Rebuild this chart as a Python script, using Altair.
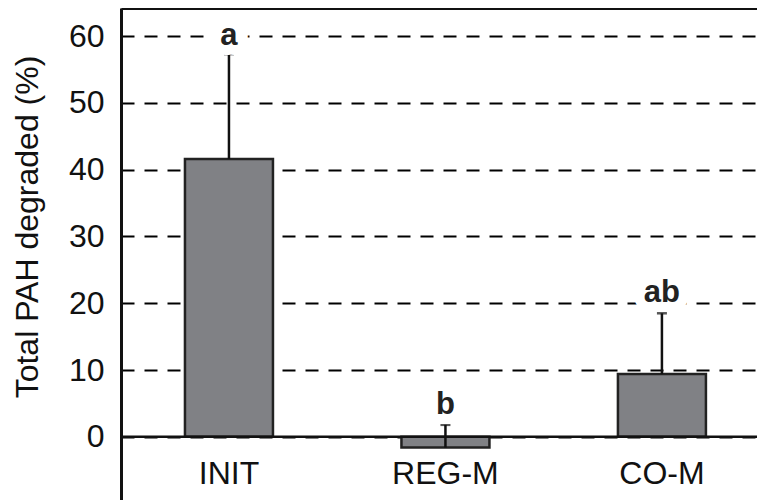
import altair as alt
import pandas as pd

categories = ["INIT", "REG-M", "CO-M"]
means = [41.6, -1.6, 9.4]
err_top = [57.3, 1.8, 18.5]
sig_letters = ["a", "b", "ab"]
sig_y = [60.0, 4.8, 21.6]
label_y = [-5.5, -5.5, -5.5]
y_ticks = [0, 10, 20, 30, 40, 50, 60]

df = pd.DataFrame({
    "cat": categories,
    "mean": means,
    "top": err_top,
    "sig": sig_letters,
    "sig_y": sig_y,
    "label_y": label_y,
})

FONT = "Liberation Sans"
Y_DOMAIN = [-9.45, 64.2]

xscale = alt.Scale(domain=categories, paddingInner=0.5935, paddingOuter=0.2657, align=0.556)
yscale = alt.Scale(domain=Y_DOMAIN, nice=False, zero=False)

base = alt.Chart(df)

bars = base.mark_bar(color="#808185", stroke="#222222", strokeWidth=2.5).encode(
    x=alt.X("cat:N", scale=xscale, sort=categories,
            axis=alt.Axis(orient="top", labels=False, ticks=False, grid=False,
                          domain=True, domainColor="#111111", domainWidth=3, title=None)),
    y=alt.Y("mean:Q", scale=yscale,
            axis=alt.Axis(values=y_ticks, title="Total PAH degraded (%)",
                          grid=True, gridColor="#000000", gridWidth=2, gridDash=[13, 10],
                          ticks=False, tickSize=0, labelPadding=17,
                          labelFont=FONT, labelFontSize=32, labelColor="#111111",
                          titleFont=FONT, titleFontSize=32, titleFontWeight="normal",
                          titleColor="#111111", titleX=-84, titleY=218.5,
                          titleBaseline="alphabetic",
                          domainColor="#111111", domainWidth=3)),
    y2=alt.Y2(datum=0),
)

zero = alt.Chart(pd.DataFrame({"z": [0]})).mark_rule(color="#111111", strokeWidth=2.5).encode(
    y=alt.Y("z:Q", scale=yscale)
)

err = base.mark_rule(color="#111111", strokeWidth=2.5).encode(
    x=alt.X("cat:N", scale=xscale, sort=categories),
    y=alt.Y("mean:Q", scale=yscale),
    y2="top:Q",
)

caps = base.mark_tick(color="#111111", thickness=2.5, size=10, orient="horizontal").encode(
    x=alt.X("cat:N", scale=xscale, sort=categories),
    y=alt.Y("top:Q", scale=yscale),
)

halo = base.mark_text(font=FONT, fontSize=31, fontWeight="bold", baseline="middle",
                      stroke="white", strokeWidth=20, fill="white").encode(
    x=alt.X("cat:N", scale=xscale, sort=categories),
    y=alt.Y("sig_y:Q", scale=yscale),
    text="sig:N",
)

letters = base.mark_text(font=FONT, fontSize=31, fontWeight="bold", baseline="middle",
                         color="#222222").encode(
    x=alt.X("cat:N", scale=xscale, sort=categories),
    y=alt.Y("sig_y:Q", scale=yscale),
    text="sig:N",
)

cat_labels = base.mark_text(font=FONT, fontSize=32, baseline="middle", color="#111111").encode(
    x=alt.X("cat:N", scale=xscale, sort=categories),
    y=alt.Y("label_y:Q", scale=yscale),
    text="cat:N",
)

chart = alt.layer(bars, zero, err, caps, halo, letters, cat_labels).properties(
    width=636,
    height=492,
    autosize=alt.AutoSizeParams(type="none"),
    padding={"left": 113, "top": 0, "right": 0, "bottom": 0},
).configure_view(stroke=None).configure(background="white")

chart.save("out.html", embed_options={"renderer": "svg", "actions": False})
